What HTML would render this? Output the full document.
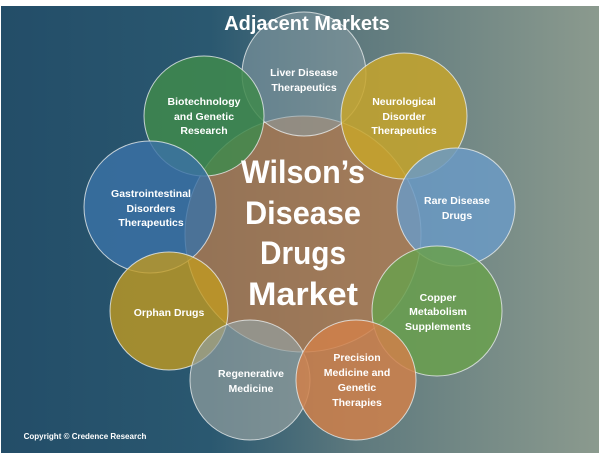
<!DOCTYPE html><html><head><style>
html,body{margin:0;padding:0;background:#fff;width:600px;height:454px;overflow:hidden}
svg{display:block}
text{font-family:"Liberation Sans",sans-serif;fill:#fff;font-weight:bold;text-anchor:middle}
</style></head><body>
<svg width="600" height="454" viewBox="0 0 600 454">
<defs>
<linearGradient id="bg" x1="0" y1="0" x2="1" y2="0">
<stop offset="0" stop-color="#234d68"/><stop offset="0.35" stop-color="#2a5870"/><stop offset="0.6" stop-color="#5f7a7e"/><stop offset="1" stop-color="#8b9a8e"/>
</linearGradient>
</defs>
<rect x="1" y="6" width="598" height="447" fill="url(#bg)"/>
<g stroke="#e8ecec" stroke-width="1" stroke-opacity="0.8">
<circle cx="303" cy="234" r="118" fill="#b07a50" fill-opacity="0.8"/>
<circle cx="304" cy="74" r="62" fill="#8a9ea6" fill-opacity="0.55"/>
<circle cx="204" cy="116" r="60" fill="#3f8a4c" fill-opacity="0.85"/>
<circle cx="404" cy="116" r="63" fill="#c7a42a" fill-opacity="0.85"/>
<circle cx="150" cy="207" r="66" fill="#3a72a6" fill-opacity="0.82"/>
<circle cx="456" cy="207" r="59" fill="#6b9ac4" fill-opacity="0.85"/>
<circle cx="169" cy="311" r="59" fill="#c09a20" fill-opacity="0.8"/>
<circle cx="437" cy="311" r="65" fill="#6aa04e" fill-opacity="0.85"/>
<circle cx="250" cy="380" r="60" fill="#93a0a0" fill-opacity="0.7"/>
<circle cx="356" cy="380" r="60" fill="#d0804a" fill-opacity="0.85"/>
</g>
<text x="307" y="30" font-size="20">Adjacent Markets</text>
<g font-size="10.5">
<text x="304" y="76">Liver Disease</text><text x="304" y="91">Therapeutics</text>
<text x="204" y="105">Biotechnology</text><text x="204" y="120">and Genetic</text><text x="204" y="134">Research</text>
<text x="404" y="105">Neurological</text><text x="404" y="120">Disorder</text><text x="404" y="134">Therapeutics</text>
<text x="151" y="197">Gastrointestinal</text><text x="151" y="212">Disorders</text><text x="151" y="226">Therapeutics</text>
<text x="457" y="204">Rare Disease</text><text x="457" y="219">Drugs</text>
<text x="169" y="316">Orphan Drugs</text>
<text x="438" y="301">Copper</text><text x="438" y="315">Metabolism</text><text x="438" y="330">Supplements</text>
<text x="251" y="377">Regenerative</text><text x="251" y="392">Medicine</text>
<text x="357" y="361">Precision</text><text x="357" y="376">Medicine and</text><text x="357" y="391">Genetic</text><text x="357" y="406">Therapies</text>
</g>
<g font-size="32">
<text x="303" y="183" textLength="124" lengthAdjust="spacingAndGlyphs">Wilson’s</text>
<text x="303" y="224" textLength="116" lengthAdjust="spacingAndGlyphs">Disease</text>
<text x="303" y="264" textLength="86" lengthAdjust="spacingAndGlyphs">Drugs</text>
<text x="303" y="305" textLength="110" lengthAdjust="spacingAndGlyphs">Market</text>
</g>
<text x="85" y="439" font-size="8">Copyright © Credence Research</text>
</svg>
</body></html>
